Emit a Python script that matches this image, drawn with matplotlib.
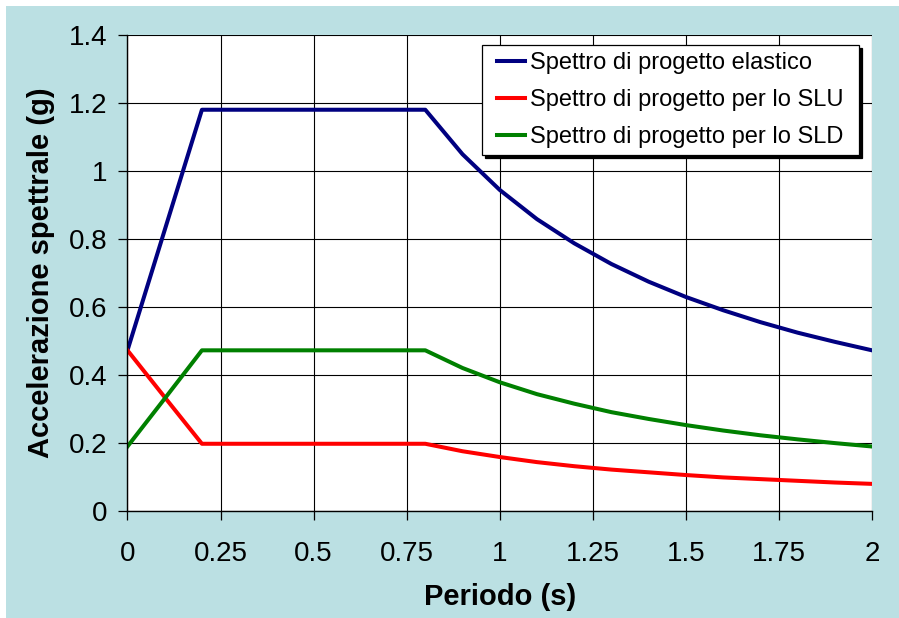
#!/usr/bin/env python3
"""
Spettri di progetto: elastico, SLU e SLD, accelerazione spettrale vs periodo.
"""
import matplotlib.pyplot as plt
from matplotlib.lines import Line2D
from matplotlib.legend_handler import HandlerLine2D
from matplotlib.patches import Rectangle

periodo = [0.0, 0.1, 0.2, 0.3, 0.4, 0.5, 0.6, 0.7, 0.8, 0.9, 1.0,
           1.1, 1.2, 1.3, 1.4, 1.5, 1.6, 1.7, 1.8, 1.9, 2.0]
elastico = [0.472, 0.826, 1.180, 1.180, 1.180, 1.180, 1.180, 1.180, 1.180,
            1.049, 0.944, 0.858, 0.787, 0.726, 0.674, 0.629, 0.590, 0.555,
            0.524, 0.497, 0.472]
slu = [0.472, 0.334, 0.197, 0.197, 0.197, 0.197, 0.197, 0.197, 0.197,
       0.175, 0.158, 0.143, 0.131, 0.121, 0.113, 0.105, 0.098, 0.093,
       0.088, 0.083, 0.079]
sld = [0.189, 0.330, 0.472, 0.472, 0.472, 0.472, 0.472, 0.472, 0.472,
       0.420, 0.378, 0.343, 0.315, 0.290, 0.270, 0.252, 0.236, 0.222,
       0.210, 0.199, 0.189]

etichette = ['Spettro di progetto elastico',
             'Spettro di progetto per lo SLU',
             'Spettro di progetto per lo SLD']
x_ticks = [0, 0.25, 0.5, 0.75, 1, 1.25, 1.5, 1.75, 2]
x_labels = ['0', '0.25', '0.5', '0.75', '1', '1.25', '1.5', '1.75', '2']
y_ticks = [0, 0.2, 0.4, 0.6, 0.8, 1.0, 1.2, 1.4]
y_labels = ['0', '0.2', '0.4', '0.6', '0.8', '1', '1.2', '1.4']

plt.rcParams['font.family'] = ['Liberation Sans', 'DejaVu Sans']

fig = plt.figure(figsize=(8.99, 6.18), dpi=100, facecolor='white')
# teal background, with a thin white strip at top and left
fig.patches.append(Rectangle((6 / 899, 0), 1, 1 - 6 / 618,
                             transform=fig.transFigure,
                             facecolor='#bbe0e3', edgecolor='none',
                             zorder=-10))

ax = fig.add_axes([0.1418, 0.1736, 0.8282, 0.7698])
ax.set_facecolor('white')

ax.plot(periodo, elastico, color='#000080', lw=2.9, label=etichette[0])
ax.plot(periodo, slu, color='#ff0000', lw=2.9, label=etichette[1])
ax.plot(periodo, sld, color='#008000', lw=2.9, label=etichette[2])

ax.set_xlim(0, 2)
ax.set_ylim(0, 1.4)
ax.set_xticks(x_ticks)
ax.set_xticklabels(x_labels)
ax.set_yticks(y_ticks)
ax.set_yticklabels(y_labels)
ax.grid(True, color='black', lw=0.8)
ax.set_axisbelow(True)

ax.tick_params(axis='both', direction='out', length=6.5, width=0.9,
               labelsize=20, color='black')
ax.tick_params(axis='x', pad=15)
ax.tick_params(axis='y', pad=8)

for side in ['top', 'right']:
    ax.spines[side].set_visible(False)
for side in ['left', 'bottom']:
    ax.spines[side].set_linewidth(1.0)

ax.set_xlabel('Periodo (s)', fontsize=21, fontweight='bold', labelpad=12)
ax.set_ylabel('Accelerazione spettrale (g)', fontsize=21,
              fontweight='bold', labelpad=10)

# legend spanning a fixed box, extra room to the right of the text
leg = ax.legend(loc='upper left', bbox_to_anchor=(0.4762, 0.743, 0.5063, 0.236),
                mode='expand', borderaxespad=0, fontsize=17, fancybox=False,
                framealpha=1, edgecolor='black', handlelength=1.5,
                handletextpad=0.25, labelspacing=0.63, borderpad=0.3,
                handler_map={Line2D: HandlerLine2D(xpad=0.35)},
                shadow={'color': 'black', 'alpha': 1})
leg.get_frame().set_linewidth(0.9)

fig.savefig('out.png', dpi=100, facecolor=fig.get_facecolor())
